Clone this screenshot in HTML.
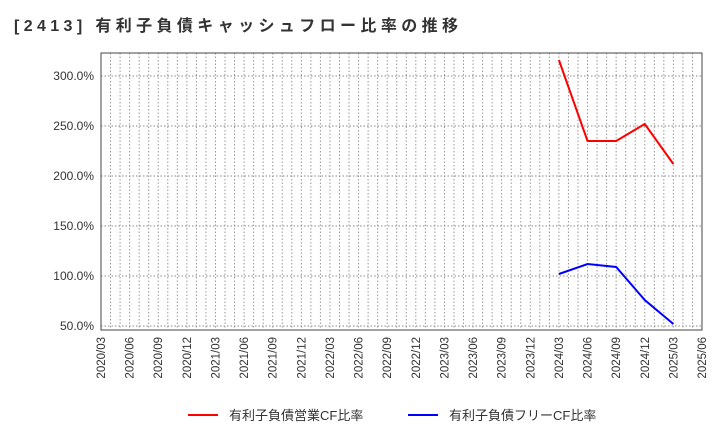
<!DOCTYPE html>
<html><head><meta charset="utf-8"><style>
body{margin:0;background:#fff;font-family:"Liberation Sans","Noto Sans CJK JP",sans-serif;}
</style></head><body>
<svg width="720" height="440" xmlns="http://www.w3.org/2000/svg" id="c">
<text x="14" y="31" font-size="16" font-weight="bold" fill="#333" textLength="444" lengthAdjust="spacing" font-family="Liberation Sans, Noto Sans CJK JP, sans-serif">[2413]  有利子負債キャッシュフロー比率の推移</text>
<g id="grid"></g><g id="axes"></g><g id="series"></g>
<g>
<line x1="188" y1="415" x2="218" y2="415" stroke="#f00" stroke-width="2"/>
<text x="229" y="420" font-size="13" fill="#333">有利子負債営業CF比率</text>
<line x1="408" y1="415" x2="438" y2="415" stroke="#00f" stroke-width="2"/>
<text x="449" y="420" font-size="13" fill="#333">有利子負債フリーCF比率</text>
</g>
</svg>
<script>
const xLabels=["2020/03","2020/06","2020/09","2020/12","2021/03","2021/06","2021/09","2021/12","2022/03","2022/06","2022/09","2022/12","2023/03","2023/06","2023/09","2023/12","2024/03","2024/06","2024/09","2024/12","2025/03","2025/06"];
const yTicks=[50,100,150,200,250,300];
const seriesDates=["2024/03","2024/06","2024/09","2024/12","2025/03"];
const opCF=[316,235,235,252,212];
const freeCF=[102,112,109,76,52];
const NS="http://www.w3.org/2000/svg";
const L=101,R=702,T=53,B=330;
const x=i=>L+(R-L)*i/21;
const y=v=>376-v;
function mk(tag,attrs,parent){const e=document.createElementNS(NS,tag);for(const k in attrs)e.setAttribute(k,attrs[k]);parent.appendChild(e);return e;}
const grid=document.getElementById('grid'),axes=document.getElementById('axes'),ser=document.getElementById('series');
for(let m=1;m<63;m++){const xx=L+(R-L)*m/63;const g=mk('line',{x1:xx,x2:xx,y1:T,y2:B,stroke:'#999','stroke-dasharray':'1.5,2','stroke-width':1},grid);

}
yTicks.forEach(v=>{const g=mk('line',{x1:L,x2:R,y1:y(v),y2:y(v),stroke:'#888','stroke-dasharray':'1.5,2','stroke-width':1},grid);


const t=mk('text',{x:L-7,y:y(v)+4,'font-size':12,'text-anchor':'end',fill:'#333'},axes);t.textContent=v.toFixed(1)+'%';

});
const fr=mk('rect',{x:L,y:T,width:R-L,height:B-T,fill:'none',stroke:'#444','stroke-width':1},axes);


xLabels.forEach((s,i)=>{const t=mk('text',{transform:`translate(${x(i)+4},${B+7}) rotate(-90)`,'font-size':11.5,'text-anchor':'end',fill:'#333'},axes);t.textContent=s;

});
function line(vals,color,name){const pts=vals.map((v,i)=>x(xLabels.indexOf(seriesDates[i]))+','+y(v)).join(' ');
const p=mk('polyline',{points:pts,fill:'none',stroke:color,'stroke-width':2},ser);

}
line(opCF,'#f00','operating-cf-line');
line(freeCF,'#00f','free-cf-line');
</script>
</body></html>
